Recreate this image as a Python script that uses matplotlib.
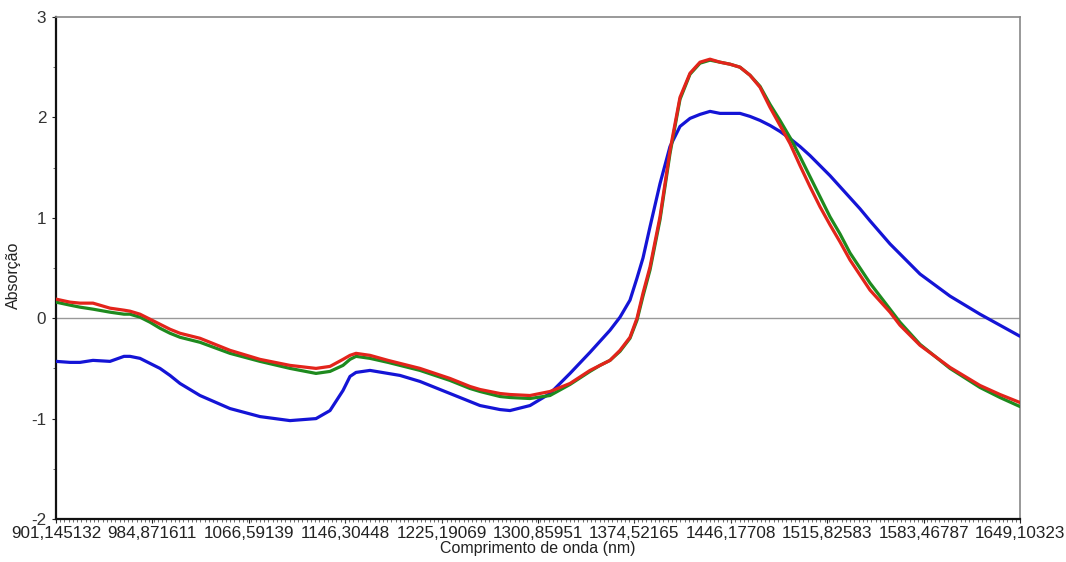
import matplotlib
matplotlib.use("Agg")
import matplotlib.pyplot as plt
import numpy as np
from matplotlib.ticker import FixedLocator, MultipleLocator

plt.rcParams['font.family'] = ['Liberation Sans', 'DejaVu Sans']
plt.rcParams['axes.unicode_minus'] = False

# sample positions along the axis (0 .. 964 span)
pos = [0, 14, 24, 37, 54, 68, 74, 84, 94, 104, 114, 124, 144, 174, 204, 234, 260, 274,
       287, 294, 300, 314, 332, 344, 364, 394, 414, 424, 444, 454, 474, 494, 514, 534,
       544, 554, 564, 574, 581, 587, 594, 604, 614, 624, 634, 644, 654, 664, 674, 684,
       694, 704, 714, 724, 734, 744, 754, 764, 774, 784, 794, 804, 814, 834, 844, 864,
       894, 924, 944, 964]

red = [0.19, 0.16, 0.15, 0.15, 0.10, 0.08, 0.07, 0.04, -0.01, -0.06, -0.11, -0.15, -0.20,
       -0.32, -0.41, -0.47, -0.50, -0.48, -0.41, -0.37, -0.35, -0.37, -0.42, -0.45, -0.50,
       -0.60, -0.68, -0.71, -0.75, -0.76, -0.77, -0.73, -0.65, -0.52, -0.47, -0.42, -0.32,
       -0.19, 0.00, 0.25, 0.51, 1.01, 1.67, 2.20, 2.44, 2.55, 2.58, 2.55, 2.53, 2.50, 2.42,
       2.30, 2.10, 1.92, 1.74, 1.52, 1.31, 1.11, 0.93, 0.76, 0.58, 0.43, 0.28, 0.06, -0.07,
       -0.27, -0.49, -0.67, -0.76, -0.84]

green = [0.16, 0.13, 0.11, 0.09, 0.06, 0.04, 0.04, 0.01, -0.04, -0.10, -0.15, -0.19, -0.24,
         -0.35, -0.43, -0.50, -0.55, -0.53, -0.47, -0.41, -0.38, -0.40, -0.44, -0.47, -0.52,
         -0.62, -0.70, -0.73, -0.78, -0.79, -0.80, -0.77, -0.66, -0.53, -0.47, -0.42, -0.33,
         -0.20, -0.02, 0.22, 0.48, 0.98, 1.64, 2.18, 2.43, 2.54, 2.57, 2.55, 2.53, 2.50, 2.42,
         2.31, 2.13, 1.97, 1.80, 1.61, 1.41, 1.21, 1.01, 0.84, 0.65, 0.50, 0.35, 0.09, -0.04,
         -0.26, -0.50, -0.69, -0.79, -0.88]

blue = [-0.43, -0.44, -0.44, -0.42, -0.43, -0.38, -0.38, -0.40, -0.45, -0.50, -0.57, -0.65,
        -0.77, -0.90, -0.98, -1.02, -1.00, -0.92, -0.72, -0.58, -0.54, -0.52, -0.55, -0.57,
        -0.63, -0.75, -0.83, -0.87, -0.91, -0.92, -0.87, -0.75, -0.55, -0.34, -0.23, -0.12,
        0.01, 0.18, 0.40, 0.60, 0.91, 1.34, 1.71, 1.91, 1.99, 2.03, 2.06, 2.04, 2.04, 2.04,
        2.01, 1.97, 1.92, 1.86, 1.79, 1.71, 1.62, 1.52, 1.42, 1.31, 1.20, 1.09, 0.97, 0.74,
        0.64, 0.44, 0.22, 0.04, -0.07, -0.18]

tick_labels = ["901,145132", "984,871611", "1066,59139", "1146,30448", "1225,19069",
               "1300,85951", "1374,52165", "1446,17708", "1515,82583", "1583,46787",
               "1649,10323"]

fig = plt.figure(figsize=(10.66, 5.62), dpi=100)
ax = fig.add_axes([56/1066, 1 - 519/562, (1020 - 56)/1066, (519 - 17)/562])

ax.axhline(0, color='#999999', lw=1.0, zorder=1)
kw = dict(lw=2.3, solid_joinstyle='round', solid_capstyle='round')
ax.plot(pos, blue, color='#1414d6', zorder=3, **kw)
ax.plot(pos, green, color='#1e8a1e', zorder=4, **kw)
ax.plot(pos, red, color='#e3241b', zorder=5, **kw)

ax.set_xlim(0, 964)
ax.set_ylim(-2, 3)
ax.xaxis.set_major_locator(FixedLocator(np.linspace(0, 964, len(tick_labels))))
ax.set_xticklabels(tick_labels)
ax.xaxis.set_minor_locator(FixedLocator(np.linspace(0, 964, 228)))
ax.yaxis.set_major_locator(MultipleLocator(1))
ax.yaxis.set_minor_locator(MultipleLocator(0.5))

ax.tick_params(axis='both', which='major', direction='out', length=3, width=0.8,
               labelsize=12.3, colors='#222222', pad=2)
ax.tick_params(axis='both', which='minor', direction='out', length=2.5, width=0.6,
               colors='#555555')
ax.tick_params(axis='y', which='major', pad=4, labelcolor='#333333')

for s in ['left', 'bottom']:
    ax.spines[s].set_color('#111111')
    ax.spines[s].set_linewidth(1.6)
for s in ['top', 'right']:
    ax.spines[s].set_color('#888888')
    ax.spines[s].set_linewidth(1.2)

ax.set_xlabel("Comprimento de onda (nm)", fontsize=11.5, color='#222222', labelpad=0)
ax.set_ylabel("Absorção", fontsize=11.5, color='#222222')
ax.yaxis.set_label_coords(-0.036, 0.485)

fig.savefig("out.png", dpi=100, facecolor='white')
